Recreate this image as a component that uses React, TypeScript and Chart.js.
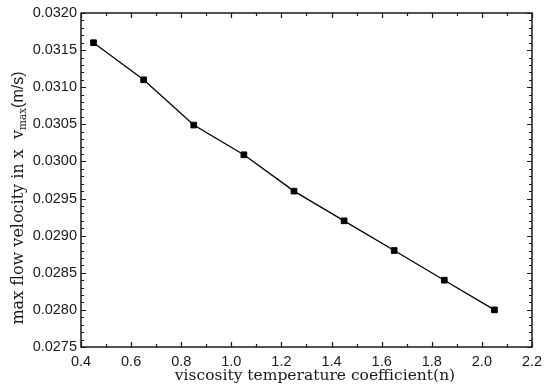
import React, { useEffect, useRef } from 'react';
import { Chart, registerables } from 'chart.js';

Chart.register(...registerables);

const X_VALUES = [0.45, 0.65, 0.85, 1.05, 1.25, 1.45, 1.65, 1.85, 2.05];
const Y_VALUES = [0.0316, 0.0311, 0.03049, 0.03009, 0.0296, 0.0292, 0.0288, 0.0284, 0.028];
const X_TICKS = [0.4, 0.6, 0.8, 1.0, 1.2, 1.4, 1.6, 1.8, 2.0, 2.2];
const Y_TICKS = [0.0275, 0.028, 0.0285, 0.029, 0.0295, 0.03, 0.0305, 0.031, 0.0315, 0.032];
const X_TITLE = 'viscosity temperature coefficient(n)';
const Y_TITLE_MAIN = 'max flow velocity in x  v';
const Y_TITLE_SUB = 'max';
const Y_TITLE_UNIT = '(m/s)';

const SERIF = '"DejaVu Serif", serif';
const SANS = '"Liberation Sans", Arial, sans-serif';

const framePlugin = {
  id: 'frameTicks',
  afterDraw(chart: any) {
    const { ctx, chartArea: a, scales } = chart;
    const xs = scales.x;
    const ys = scales.y;
    ctx.save();
    ctx.strokeStyle = '#1a1a1a';
    ctx.lineWidth = 1.2;
    ctx.beginPath();
    const xTick = (v: number, len: number) => {
      const px = Math.round(xs.getPixelForValue(v)) + 0.5;
      ctx.moveTo(px, a.bottom);
      ctx.lineTo(px, a.bottom - len);
      ctx.moveTo(px, a.top);
      ctx.lineTo(px, a.top + len);
    };
    const yTick = (v: number, len: number) => {
      const py = Math.round(ys.getPixelForValue(v)) + 0.5;
      ctx.moveTo(a.left, py);
      ctx.lineTo(a.left + len, py);
      ctx.moveTo(a.right, py);
      ctx.lineTo(a.right - len, py);
    };
    X_TICKS.forEach((v, i) => {
      xTick(v, 5);
      if (i < X_TICKS.length - 1) xTick((v + X_TICKS[i + 1]) / 2, 3);
    });
    Y_TICKS.forEach((v, i) => {
      yTick(v, 5);
      if (i < Y_TICKS.length - 1) {
        const step = (Y_TICKS[i + 1] - v) / 5;
        for (let k = 1; k < 5; k++) yTick(v + step * k, 3);
      }
    });
    ctx.stroke();
    ctx.lineWidth = 1.5;
    ctx.strokeRect(a.left, a.top, a.right - a.left, a.bottom - a.top);

    // x title
    ctx.fillStyle = '#1a1a1a';
    ctx.font = `15.5px ${SERIF}`;
    ctx.textAlign = 'center';
    ctx.textBaseline = 'alphabetic';
    ctx.fillText(X_TITLE, 315, 380);

    // y title (rotated, with subscript)
    ctx.translate(23, 198);
    ctx.rotate(-Math.PI / 2);
    ctx.textAlign = 'left';
    const mainFont = `16px ${SERIF}`;
    const subFont = `10.5px ${SERIF}`;
    const unitFont = `16px ${SANS}`;
    ctx.font = mainFont;
    const w1 = ctx.measureText(Y_TITLE_MAIN).width;
    ctx.font = subFont;
    const w2 = ctx.measureText(Y_TITLE_SUB).width;
    ctx.font = unitFont;
    const w3 = ctx.measureText(Y_TITLE_UNIT).width;
    let x = -(w1 + w2 + w3) / 2;
    ctx.font = mainFont;
    ctx.fillText(Y_TITLE_MAIN, x, 0);
    x += w1;
    ctx.font = subFont;
    ctx.fillText(Y_TITLE_SUB, x, 3);
    x += w2;
    ctx.font = unitFont;
    ctx.fillText(Y_TITLE_UNIT, x, 0);
    ctx.restore();
  },
};

export default function App() {
  const ref = useRef<HTMLCanvasElement | null>(null);
  useEffect(() => {
    if (!ref.current) return;
    const chart = new Chart(ref.current, {
      type: 'line',
      data: {
        datasets: [
          {
            data: X_VALUES.map((x, i) => ({ x, y: Y_VALUES[i] })),
            borderColor: '#000',
            backgroundColor: '#000',
            borderWidth: 1.3,
            pointStyle: 'rect',
            pointRadius: 4,
            pointBorderWidth: 1,
            pointBackgroundColor: '#000',
            pointBorderColor: '#000',
            tension: 0,
          },
        ],
      },
      options: {
        responsive: false,
        animation: false,
        layout: { padding: { top: 13, right: 18, left: 0, bottom: 0 } },
        plugins: { legend: { display: false }, tooltip: { enabled: false } },
        scales: {
          x: {
            type: 'linear',
            min: 0.4,
            max: 2.2,
            grid: { display: false, drawTicks: false },
            border: { display: false },
            afterBuildTicks: (s: any) => {
              s.ticks = X_TICKS.map((v) => ({ value: v }));
            },
            afterFit: (s: any) => {
              s.height = 45;
            },
            ticks: {
              padding: 6,
              color: '#1a1a1a',
              font: { family: SANS, size: 14.5 },
              maxRotation: 0,
              autoSkip: false,
              callback: (v: any) => Number(v).toFixed(1),
            },
          },
          y: {
            type: 'linear',
            min: 0.0275,
            max: 0.032,
            grid: { display: false, drawTicks: false },
            border: { display: false },
            afterBuildTicks: (s: any) => {
              s.ticks = Y_TICKS.map((v) => ({ value: v }));
            },
            afterFit: (s: any) => {
              s.width = 81;
            },
            ticks: {
              padding: 4,
              color: '#1a1a1a',
              font: { family: SANS, size: 14.5 },
              autoSkip: false,
              callback: (v: any) => Number(v).toFixed(4),
            },
          },
        },
      },
      plugins: [framePlugin],
    } as any);
    return () => chart.destroy();
  }, []);
  return (
    <div style={{ position: 'fixed', left: 0, top: 0, width: 550, height: 392, background: '#fff' }}>
      <canvas ref={ref} width={550} height={392} />
    </div>
  );
}
